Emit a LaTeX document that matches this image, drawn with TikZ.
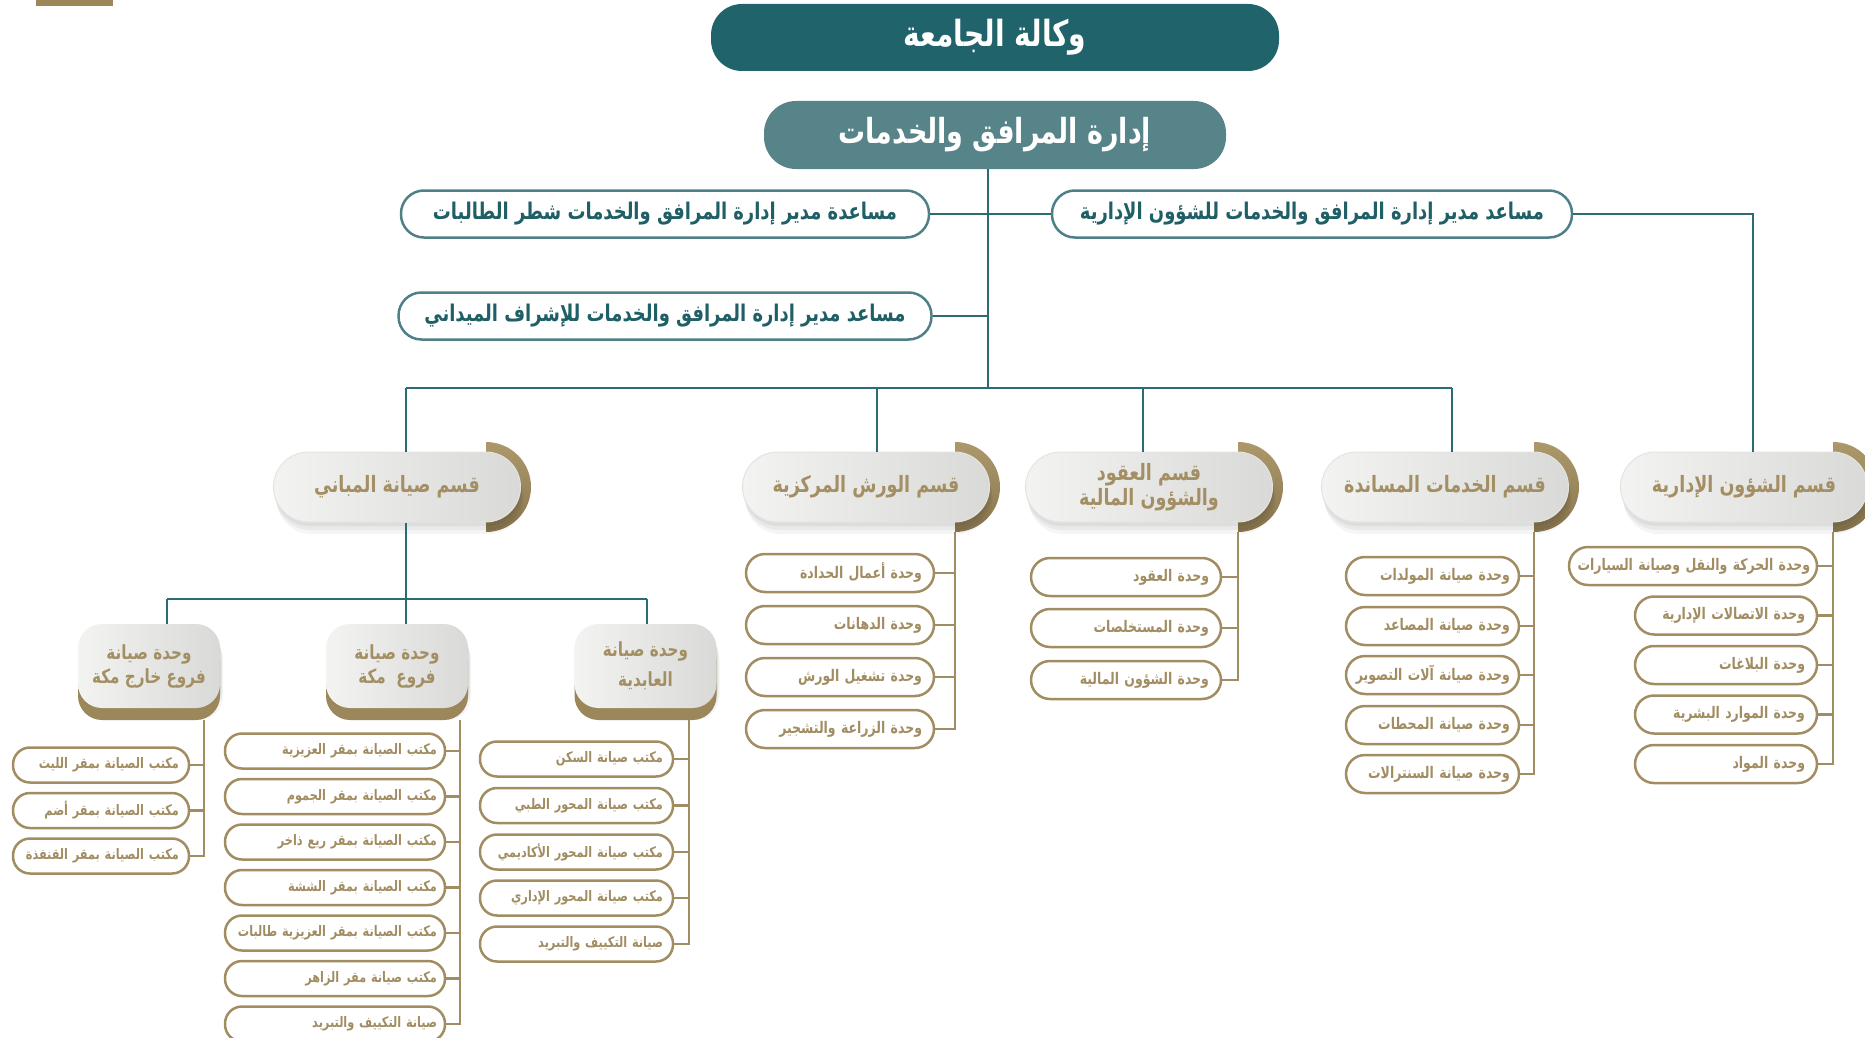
\documentclass[tikz,border=0pt]{standalone}
\usepackage{fontspec}
\newfontfamily\arabicfont[Script=Arabic,FakeStretch=0.78]{DejaVu Sans}
\TeXXeTstate=1
\usetikzlibrary{backgrounds,shadows}
\newcommand{\ar}[1]{{\arabicfont\beginR #1\endR}}
\definecolor{darkteal}{HTML}{20636B}
\definecolor{midteal}{HTML}{578489}
\definecolor{linteal}{HTML}{2B6C74}
\definecolor{asstline}{HTML}{4F8087}
\definecolor{assttext}{HTML}{1F5F66}
\definecolor{lingold}{HTML}{A08D62}
\definecolor{unitgold}{HTML}{A18D61}
\definecolor{deptgold}{HTML}{A38F63}
\definecolor{arcgoldL}{HTML}{AC986A}
\definecolor{arcgoldD}{HTML}{8A7750}
\definecolor{basegold}{HTML}{9B8759}
\definecolor{pillL}{HTML}{F3F3F2}
\definecolor{pillR}{HTML}{D9DAD8}
\definecolor{pillB}{HTML}{E3E3E1}
\tikzset{
	tealline/.style={draw=linteal, line width=2.5pt},
	goldline/.style={draw=lingold, line width=2.5pt},
	softshadow/.style={
		general shadow={draw=none, fill=black, fill opacity=0.05, shadow xshift=1pt, shadow yshift=-4pt},
		general shadow={draw=none, fill=black, fill opacity=0.05, shadow xshift=2pt, shadow yshift=-8pt},
		general shadow={draw=none, fill=black, fill opacity=0.04, shadow xshift=3pt, shadow yshift=-12pt}},
	topbox/.style={fill=darkteal, text=white, rounded corners=31pt, minimum width=568pt, minimum height=67pt, font=\fontsize{36}{40}\selectfont\bfseries},
	mgrbox/.style={fill=midteal, text=white, rounded corners=32pt, minimum width=462pt, minimum height=68pt, font=\fontsize{34.5}{38}\selectfont\bfseries},
	asstbox/.style={draw=asstline, line width=2.5pt, fill=white, text=assttext, rounded corners=23pt, minimum height=47pt, font=\fontsize{23}{26}\selectfont\bfseries},
	deptbox/.style={softshadow, rounded corners=35pt, minimum width=247pt, minimum height=70pt, left color=pillL, right color=pillR, draw=pillB, line width=1pt, text=deptgold, align=center, font=\fontsize{22.5}{25}\selectfont\bfseries},
	arcfill/.style={top color=arcgoldL, bottom color=arcgoldD},
	branchbox/.style={softshadow, general shadow={draw=none, fill=basegold, shadow yshift=-12pt}, rounded corners=24pt, minimum width=142pt, minimum height=84pt, left color=pillL, right color=pillR, text=deptgold, align=center, font=\fontsize{19.5}{24}\selectfont\bfseries},
	unitbox/.style={draw=unitgold, line width=2.5pt, fill=white, text=unitgold, rounded corners=19pt, minimum height=38pt, inner xsep=12pt, align=right, font=\fontsize{16}{18}\selectfont\bfseries},
	subbox/.style={unitbox, rounded corners=17pt, minimum height=35pt, inner xsep=10pt, font=\fontsize{14.5}{16}\selectfont\bfseries},
	unitW/.style={unitbox, text width=164pt},
	unitC/.style={unitbox, text width=166pt},
	unitS/.style={unitbox, inner xsep=9pt, text width=155pt},
	unitA/.style={unitbox, text width=158pt},
	subX/.style={subbox, text width=156pt},
	subK/.style={subbox, inner xsep=8pt, text width=204pt},
	subR/.style={subbox, text width=173pt}
}
\begin{document}
\begin{tikzpicture}[x=1pt, y=-1pt]
	\useasboundingbox (0,0) rectangle (1865,1038);
	\fill[basegold] (36,0) rectangle (113,6);

	\node[topbox] (vice) at (995,37.5) {\ar{وكالة الجامعة}};
	\node[mgrbox] (mgr) at (995,135) {\ar{إدارة المرافق والخدمات}};

	\node[asstbox, minimum width=528pt] (asW) at (665,214) {\ar{مساعدة مدير إدارة المرافق والخدمات شطر الطالبات}};
	\node[asstbox, minimum width=520pt] (asR) at (1312,214) {\ar{مساعد مدير إدارة المرافق والخدمات للشؤون الإدارية}};
	\node[asstbox, minimum width=533pt] (asF) at (665,316) {\ar{مساعد مدير إدارة المرافق والخدمات للإشراف الميداني}};

	\node[deptbox] (dM) at (397,487) {\ar{قسم صيانة المباني}};
	\node[deptbox] (dW) at (866,487) {\ar{قسم الورش المركزية}};
	\node[deptbox] (dC) at (1149,487) {\ar{قسم العقود}\\\ar{والشؤون المالية}};
	\node[deptbox] (dS) at (1445,487) {\ar{قسم الخدمات المساندة}};
	\node[deptbox] (dA) at (1744,487) {\ar{قسم الشؤون الإدارية}};

	\begin{scope}[on background layer]
		\shade[arcfill] ([xshift=-35pt]dM.east) ++(0pt,45pt) arc[start angle=90, end angle=-90, radius=45pt] -- cycle;
		\shade[arcfill] ([xshift=-35pt]dW.east) ++(0pt,45pt) arc[start angle=90, end angle=-90, radius=45pt] -- cycle;
		\shade[arcfill] ([xshift=-35pt]dC.east) ++(0pt,45pt) arc[start angle=90, end angle=-90, radius=45pt] -- cycle;
		\shade[arcfill] ([xshift=-35pt]dS.east) ++(0pt,45pt) arc[start angle=90, end angle=-90, radius=45pt] -- cycle;
		\shade[arcfill] ([xshift=-35pt]dA.east) ++(0pt,45pt) arc[start angle=90, end angle=-90, radius=45pt] -- cycle;
	\end{scope}

	\coordinate (tk) at (988,388);
	\coordinate (bM) at (406,388);
	\coordinate (bW) at (877,388);
	\coordinate (bC) at (1143,388);
	\coordinate (bS) at (1452,388);
	\coordinate (bA) at (1753,388);

	\draw[tealline] (mgr.south -| tk) -- (tk);
	\draw[tealline] (asW.east) -- (asR.west);
	\draw[tealline] (asF.east) -- (asF.east -| tk);
	\draw[tealline] (asR.east) -| (bA |- dA.north);
	\draw[tealline] (bM) -- (bS);
	\draw[tealline] (bM) -- (bM |- dM.north);
	\draw[tealline] (bW) -- (bW |- dW.north);
	\draw[tealline] (bC) -- (bC |- dC.north);
	\draw[tealline] (bS) -- (bS |- dS.north);

	\node[unitW] (w1) at (840,573) {\ar{وحدة أعمال الحدادة}};
	\node[unitW] (w2) at (840,625) {\ar{وحدة الدهانات}};
	\node[unitW] (w3) at (840,677) {\ar{وحدة تشغيل الورش}};
	\node[unitW] (w4) at (840,729) {\ar{وحدة الزراعة والتشجير}};

	\node[unitC] (c1) at (1126,577) {\ar{وحدة العقود}};
	\node[unitC] (c2) at (1126,628) {\ar{وحدة المستخلصات}};
	\node[unitC] (c3) at (1126,680) {\ar{وحدة الشؤون المالية}};

	\node[unitS] (s1) at (1432.5,576) {\ar{وحدة صيانة المولدات}};
	\node[unitS] (s2) at (1432.5,626) {\ar{وحدة صيانة المصاعد}};
	\node[unitS] (s3) at (1432.5,675) {\ar{وحدة صيانة آلات التصوير}};
	\node[unitS] (s4) at (1432.5,725) {\ar{وحدة صيانة المحطات}};
	\node[unitS] (s5) at (1432.5,774) {\ar{وحدة صيانة السنترالات}};

	\node[unitbox, inner xsep=7pt, text width=234pt] (a1) at (1693,566) {\ar{وحدة الحركة والنقل وصيانة السيارات}};
	\node[unitA] (a2) at (1726,615.5) {\ar{وحدة الاتصالات الإدارية}};
	\node[unitA] (a3) at (1726,665) {\ar{وحدة البلاغات}};
	\node[unitA] (a4) at (1726,714.5) {\ar{وحدة الموارد البشرية}};
	\node[unitA] (a5) at (1726,764) {\ar{وحدة المواد}};

	\coordinate (wTop) at ([xshift=-35pt,yshift=-45pt]dW.east);
	\coordinate (cTop) at ([xshift=-35pt,yshift=-45pt]dC.east);
	\coordinate (sTop) at ([xshift=-35pt,yshift=-45pt]dS.east);
	\coordinate (aTop) at ([xshift=-35pt,yshift=-45pt]dA.east);

	\draw[goldline] (wTop) |- (w4.east);
	\draw[goldline] (w1.east) -- (w1.east -| wTop);
	\draw[goldline] (w2.east) -- (w2.east -| wTop);
	\draw[goldline] (w3.east) -- (w3.east -| wTop);

	\draw[goldline] (cTop) |- (c3.east);
	\draw[goldline] (c1.east) -- (c1.east -| cTop);
	\draw[goldline] (c2.east) -- (c2.east -| cTop);

	\draw[goldline] (sTop) |- (s5.east);
	\draw[goldline] (s1.east) -- (s1.east -| sTop);
	\draw[goldline] (s2.east) -- (s2.east -| sTop);
	\draw[goldline] (s3.east) -- (s3.east -| sTop);
	\draw[goldline] (s4.east) -- (s4.east -| sTop);

	\draw[goldline] (aTop) |- (a5.east);
	\draw[goldline] (a1.east) -- (a1.east -| aTop);
	\draw[goldline] (a2.east) -- (a2.east -| aTop);
	\draw[goldline] (a3.east) -- (a3.east -| aTop);
	\draw[goldline] (a4.east) -- (a4.east -| aTop);

	\coordinate (jM) at (406,599);
	\coordinate (jX) at (167,599);
	\coordinate (jA) at (647,599);
	\draw[tealline] (dM.south -| jM) -- (jM);
	\draw[tealline] (jX) -- (jA);
	\draw[tealline] (jX) -- (167,625);
	\draw[tealline] (jM) -- (406,625);
	\draw[tealline] (jA) -- (647,625);

	\node[branchbox] (brX) at (149,666) {\ar{وحدة صيانة}\\\ar{فروع خارج مكة}};
	\node[branchbox] (brK) at (397,666) {\ar{وحدة صيانة}\\\ar{فروع\ \ مكة}};
	\node[branchbox] (brA) at (645.5,666) {\ar{وحدة صيانة}\\[6pt]\ar{العابدية}};

	\node[subX] (x1) at (101,765) {\ar{مكتب الصيانة بمقر الليث}};
	\node[subX] (x2) at (101,810.5) {\ar{مكتب الصيانة بمقر أضم}};
	\node[subX] (x3) at (101,856) {\ar{مكتب الصيانة بمقر القنفذة}};

	\node[subK] (k1) at (335,751) {\ar{مكتب الصيانة بمقر العزيزية}};
	\node[subK] (k2) at (335,796.5) {\ar{مكتب الصيانة بمقر الجموم}};
	\node[subK] (k3) at (335,842) {\ar{مكتب الصيانة بمقر ريع ذاخر}};
	\node[subK] (k4) at (335,887.5) {\ar{مكتب الصيانة بمقر الششة}};
	\node[subK] (k5) at (335,933) {\ar{مكتب الصيانة بمقر العزيزية طالبات}};
	\node[subK] (k6) at (335,978.5) {\ar{مكتب صيانة مقر الزاهر}};
	\node[subK] (k7) at (335,1024) {\ar{صيانة التكييف والتبريد}};

	\node[subR] (r1) at (576.5,759) {\ar{مكتب صيانة السكن}};
	\node[subR] (r2) at (576.5,805.5) {\ar{مكتب صيانة المحور الطبي}};
	\node[subR] (r3) at (576.5,852) {\ar{مكتب صيانة المحور الأكاديمي}};
	\node[subR] (r4) at (576.5,898) {\ar{مكتب صيانة المحور الإداري}};
	\node[subR] (r5) at (576.5,944) {\ar{صيانة التكييف والتبريد}};

	\coordinate (xTop) at (204,720);
	\coordinate (kTop) at (460,720);
	\coordinate (rTop) at (689,720);

	\draw[goldline] (xTop) |- (x3.east);
	\draw[goldline] (x1.east) -- (x1.east -| xTop);
	\draw[goldline] (x2.east) -- (x2.east -| xTop);

	\draw[goldline] (kTop) |- (k7.east);
	\draw[goldline] (k1.east) -- (k1.east -| kTop);
	\draw[goldline] (k2.east) -- (k2.east -| kTop);
	\draw[goldline] (k3.east) -- (k3.east -| kTop);
	\draw[goldline] (k4.east) -- (k4.east -| kTop);
	\draw[goldline] (k5.east) -- (k5.east -| kTop);
	\draw[goldline] (k6.east) -- (k6.east -| kTop);

	\draw[goldline] (rTop) |- (r5.east);
	\draw[goldline] (r1.east) -- (r1.east -| rTop);
	\draw[goldline] (r2.east) -- (r2.east -| rTop);
	\draw[goldline] (r3.east) -- (r3.east -| rTop);
	\draw[goldline] (r4.east) -- (r4.east -| rTop);
\end{tikzpicture}
\end{document}
